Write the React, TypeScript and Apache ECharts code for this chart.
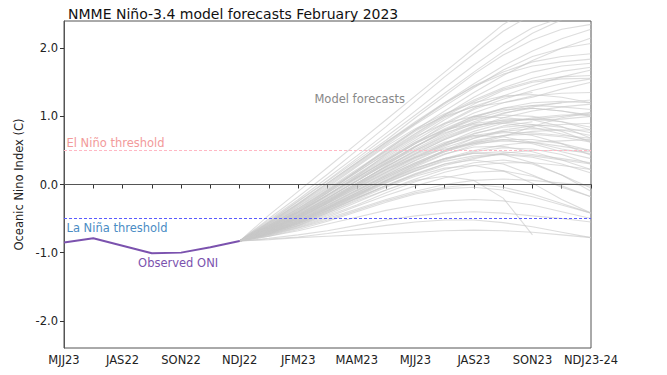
import React, { useEffect, useRef } from "react";
import * as echarts from "echarts";

const seasons = [
  "MJJ22", "JJA22", "JAS22", "ASO22", "SON22", "OND22", "NDJ22",
  "DJF23", "JFM23", "FMA23", "MAM23", "AMJ23", "MJJ23", "JJA23",
  "JAS23", "ASO23", "SON23", "OND23", "NDJ23-24",
];
const xTickLabels = [
  "MJJ23", "JAS22", "SON22", "NDJ22", "JFM23", "MAM23", "MJJ23", "JAS23", "SON23", "NDJ23-24",
];
const yTickValues = [-2, -1, 0, 1, 2];
const observedONI = [-0.85, -0.79, -0.9, -1.01, -1.0, -0.92, -0.83];
const elNinoThreshold = 0.5;
const laNinaThreshold = -0.5;

// forecast members, values for DJF23 .. NDJ23-24 (null = lead ended)
const modelForecasts: (number | null)[][] = [
  [-0.45, -0.1, 0.25, 0.6, 0.95, 1.3, 1.65, 2.0, 2.35, 2.6, 2.8, 3.0],
  [-0.5, -0.18, 0.15, 0.5, 0.85, 1.22, 1.58, 1.92, 2.25, 2.5, 2.65, 2.75],
  [-0.52, -0.22, 0.1, 0.42, 0.75, 1.08, 1.42, 1.75, 2.05, 2.3, 2.45, 2.55],
  [-0.55, -0.25, 0.05, 0.35, 0.65, 0.98, 1.3, 1.62, 1.9, 2.12, 2.28, 2.35],
  [-0.58, -0.3, -0.02, 0.28, 0.58, 0.88, 1.15, 1.42, 1.68, 1.88, 2.0, 2.07],
  [-0.56, -0.28, 0.02, 0.32, 0.62, 0.9, 1.18, 1.45, 1.65, 1.8, 1.88, 1.92],
  [-0.6, -0.35, -0.08, 0.2, 0.48, 0.75, 1.02, 1.28, 1.5, 1.65, 1.74, 1.78],
  [-0.62, -0.38, -0.12, 0.15, 0.42, 0.68, 0.95, 1.18, 1.38, 1.5, 1.55, 1.56],
  [-0.6, -0.36, -0.1, 0.18, 0.45, 0.72, 0.98, 1.15, 1.28, 1.35, null, null],
  [-0.63, -0.4, -0.15, 0.1, 0.36, 0.62, 0.85, 1.05, 1.2, 1.3, 1.34, 1.35],
  [-0.64, -0.42, -0.18, 0.08, 0.32, 0.56, 0.78, 0.98, 1.12, 1.2, 1.22, 1.2],
  [-0.65, -0.44, -0.2, 0.05, 0.3, 0.52, 0.74, 0.92, 1.05, 1.12, 1.08, 1.0],
  [-0.62, -0.4, -0.16, 0.1, 0.35, 0.6, 0.82, 1.0, 1.1, 1.12, 1.08, 1.02],
  [-0.66, -0.46, -0.24, 0.0, 0.24, 0.46, 0.66, 0.82, 0.92, 0.96, 0.92, 0.84],
  [-0.64, -0.43, -0.2, 0.05, 0.3, 0.55, 0.78, 0.95, 1.02, 1.0, 0.92, 0.8],
  [-0.67, -0.48, -0.26, -0.03, 0.2, 0.42, 0.6, 0.75, 0.84, 0.88, 0.84, 0.76],
  [-0.66, -0.46, -0.22, 0.02, 0.26, 0.48, 0.68, 0.85, 0.95, 0.95, 0.85, 0.68],
  [-0.68, -0.5, -0.3, -0.08, 0.14, 0.35, 0.54, 0.68, 0.78, 0.82, 0.8, 0.72],
  [-0.65, -0.45, -0.22, 0.02, 0.26, 0.5, 0.7, 0.86, 0.92, 0.88, 0.78, 0.62],
  [-0.69, -0.52, -0.32, -0.1, 0.12, 0.32, 0.5, 0.64, 0.72, 0.74, 0.7, 0.62],
  [-0.68, -0.5, -0.28, -0.06, 0.16, 0.38, 0.58, 0.72, 0.78, 0.72, 0.6, 0.43],
  [-0.7, -0.54, -0.35, -0.14, 0.06, 0.26, 0.44, 0.58, 0.66, 0.66, 0.6, 0.5],
  [-0.69, -0.52, -0.31, -0.09, 0.12, 0.32, 0.5, 0.62, 0.66, 0.6, 0.48, 0.38],
  [-0.71, -0.56, -0.38, -0.18, 0.02, 0.2, 0.36, 0.48, 0.54, 0.52, 0.44, 0.3],
  [-0.7, -0.54, -0.34, -0.12, 0.08, 0.28, 0.45, 0.55, 0.56, 0.48, 0.36, 0.22],
  [-0.72, -0.58, -0.4, -0.2, -0.02, 0.15, 0.3, 0.4, 0.44, 0.4, 0.3, 0.17],
  [-0.71, -0.56, -0.36, -0.15, 0.05, 0.24, 0.38, 0.46, 0.44, 0.32, 0.14, -0.1],
  [-0.73, -0.6, -0.44, -0.26, -0.08, 0.08, 0.22, 0.32, 0.36, 0.3, 0.14, -0.05],
  [-0.72, -0.58, -0.4, -0.2, -0.01, 0.16, 0.3, 0.36, 0.3, 0.14, -0.04, -0.18],
  [-0.74, -0.62, -0.48, -0.32, -0.16, -0.02, 0.1, 0.18, 0.2, 0.12, -0.02, -0.18],
  [-0.73, -0.6, -0.42, -0.22, -0.04, 0.12, 0.24, 0.28, 0.2, 0.02, -0.22, -0.42],
  [-0.75, -0.64, -0.52, -0.38, -0.24, -0.12, -0.04, 0.0, -0.04, -0.14, -0.28, -0.42],
  [-0.72, -0.58, -0.42, -0.24, -0.08, 0.06, 0.12, 0.06, -0.2, -0.74, null, null],
  [-0.76, -0.68, -0.58, -0.48, -0.38, -0.3, -0.24, -0.22, -0.24, -0.3, -0.4, -0.5],
  [-0.8, -0.77, -0.72, -0.66, -0.6, -0.55, -0.52, -0.52, -0.56, -0.62, -0.7, -0.78],
  [-0.76, -0.66, -0.54, -0.4, -0.26, -0.14, -0.06, -0.04, -0.08, -0.18, -0.3, -0.42],
  [-0.62, -0.38, -0.12, 0.14, 0.4, 0.65, 0.9, 1.12, 1.3, 1.45, 1.58, 1.68],
  [-0.59, -0.33, -0.06, 0.22, 0.5, 0.8, 1.08, 1.35, 1.6, 1.82, 2.0, 2.15],
  [-0.54, -0.24, 0.06, 0.38, 0.7, 1.02, 1.34, 1.65, 1.95, 2.22, 2.42, 2.6],
  [-0.66, -0.47, -0.25, -0.02, 0.22, 0.45, 0.66, 0.84, 0.98, 1.08, 1.14, 1.18],
  [-0.67, -0.49, -0.28, -0.05, 0.18, 0.4, 0.6, 0.78, 0.9, 0.98, 1.02, 1.02],
  [-0.7, -0.53, -0.33, -0.12, 0.1, 0.3, 0.48, 0.62, 0.72, 0.78, 0.8, 0.8],
  [-0.69, -0.51, -0.3, -0.08, 0.14, 0.36, 0.56, 0.74, 0.86, 0.92, null, null],
  [-0.71, -0.55, -0.36, -0.16, 0.04, 0.22, 0.38, 0.5, 0.58, 0.62, 0.64, 0.66],
  [-0.72, -0.57, -0.38, -0.17, 0.03, 0.2, 0.34, 0.42, 0.45, 0.42, 0.36, 0.3],
  [-0.61, -0.37, -0.1, 0.18, 0.46, 0.74, 1.0, 1.22, 1.4, 1.52, 1.58, 1.6],
  [-0.57, -0.29, 0.0, 0.3, 0.6, 0.9, 1.2, 1.48, 1.74, 1.96, 2.14, 2.28],
  [-0.81, -0.78, -0.76, -0.74, -0.72, -0.7, -0.68, -0.67, -0.68, -0.7, -0.74, -0.78],
  [-0.79, -0.74, -0.68, -0.6, -0.52, -0.46, -0.42, -0.4, -0.42, -0.46, -0.5, -0.55],
  [-0.6, -0.4, -0.12, 0.2, 0.52, 0.8, 1.0, 1.14, 1.2, 1.28, 1.4, 1.5],
  [-0.63, -0.42, -0.16, 0.12, 0.44, 0.7, 0.9, 1.0, 0.98, 0.95, 0.96, 1.0],
  [-0.58, -0.32, -0.04, 0.26, 0.56, 0.82, 1.04, 1.2, 1.3, 1.32, 1.28, 1.2],
  [-0.65, -0.45, -0.2, 0.06, 0.34, 0.6, 0.88, 1.1, 1.25, 1.38, 1.48, 1.55],
  [-0.67, -0.47, -0.24, 0.0, 0.22, 0.4, 0.52, 0.6, 0.7, 0.85, 0.98, 1.05],
  [-0.68, -0.5, -0.27, -0.02, 0.22, 0.44, 0.62, 0.72, 0.7, 0.62, 0.52, 0.45],
  [-0.7, -0.55, -0.36, -0.16, 0.06, 0.28, 0.5, 0.68, 0.8, 0.86, 0.88, 0.9],
  [-0.66, -0.48, -0.26, 0.0, 0.28, 0.55, 0.8, 1.0, 1.12, 1.16, 1.14, 1.1],
  [-0.62, -0.4, -0.15, 0.12, 0.38, 0.62, 0.8, 0.9, 0.94, 0.96, 1.0, 1.06],
  [-0.69, -0.52, -0.33, -0.12, 0.1, 0.3, 0.48, 0.6, 0.64, 0.62, 0.56, 0.5],
  [-0.71, -0.56, -0.38, -0.2, -0.02, 0.14, 0.28, 0.38, 0.46, 0.5, 0.5, 0.48],
  [-0.73, -0.61, -0.46, -0.3, -0.12, 0.04, 0.18, 0.28, 0.32, 0.32, 0.28, 0.22],
  [-0.64, -0.44, -0.2, 0.05, 0.32, 0.56, 0.76, 0.88, 0.9, 0.84, 0.74, 0.64],
  [-0.6, -0.35, -0.08, 0.2, 0.5, 0.78, 1.02, 1.24, 1.42, 1.56, 1.66, 1.72],
  [-0.56, -0.28, 0.02, 0.32, 0.62, 0.92, 1.2, 1.44, 1.62, 1.74, 1.8, 1.84],
  [-0.66, -0.47, -0.24, 0.02, 0.26, 0.5, 0.72, 0.9, 1.04, 1.14, 1.2, 1.24],
  [-0.7, -0.54, -0.34, -0.14, 0.06, 0.24, 0.38, 0.46, 0.48, 0.44, 0.38, 0.32],
  [-0.74, -0.63, -0.5, -0.36, -0.22, -0.1, 0.0, 0.06, 0.08, 0.06, 0.02, -0.02],
  [-0.68, -0.49, -0.27, -0.04, 0.18, 0.4, 0.58, 0.7, 0.76, 0.76, 0.72, 0.68],
  [-0.63, -0.41, -0.16, 0.1, 0.36, 0.6, 0.8, 0.96, 1.08, 1.16, 1.2, null],
];

const FONT = "DejaVu Sans";

export default function App() {
  const ref = useRef<HTMLDivElement>(null);

  useEffect(() => {
    if (!ref.current) return;
    const chart = echarts.init(ref.current, undefined, { renderer: "svg" });
    const lastObsIndex = observedONI.length - 1;

    const forecastSeries = modelForecasts.map((m, k) => {
      const data: (number | null)[] = seasons.map(() => null);
      data[lastObsIndex] = observedONI[lastObsIndex];
      m.forEach((v, j) => {
        data[lastObsIndex + 1 + j] = v;
      });
      return {
        type: "line",
        name: "forecast" + k,
        data,
        showSymbol: false,
        symbol: "none",
        connectNulls: false,
        silent: true,
        z: 2,
        lineStyle: { color: "rgba(200,200,200,0.62)", width: 1.1 },
      };
    });

    const obsData = seasons.map((_, i) => (i < observedONI.length ? observedONI[i] : null));

    const option: any = {
      animation: false,
      backgroundColor: "#ffffff",
      textStyle: { fontFamily: FONT },
      title: {
        text: "NMME Niño-3.4 model forecasts February 2023",
        left: 63,
        top: 2,
        textStyle: { fontFamily: FONT, fontSize: 14, fontWeight: "normal", color: "#111" },
      },
      grid: {
        left: 64,
        right: 76,
        top: 21,
        bottom: 27,
        show: true,
        borderColor: "#555",
        borderWidth: 1,
        backgroundColor: "transparent",
      },
      xAxis: {
        type: "category",
        data: seasons,
        boundaryGap: false,
        axisLine: { lineStyle: { color: "#555", width: 1 } },
        axisTick: { show: true, interval: 0, length: 4, lineStyle: { color: "#333" } },
        axisLabel: {
          interval: 1,
          margin: 6,
          fontSize: 11.5,
          color: "#222",
          fontFamily: FONT,
          formatter: (_v: string, i: number) => (i % 2 === 0 ? xTickLabels[i / 2] : ""),
        },
        splitLine: { show: false },
      },
      yAxis: {
        type: "value",
        min: -2.4,
        max: 2.4,
        name: "Oceanic Nino Index (C)",
        nameLocation: "middle",
        nameGap: 34,
        nameTextStyle: { fontSize: 11.5, color: "#222", fontFamily: FONT },
        axisLine: { show: true, lineStyle: { color: "#555", width: 1 } },
        axisTick: { show: true, length: 4, lineStyle: { color: "#333" }, customValues: yTickValues },
        axisLabel: {
          fontSize: 11.5,
          color: "#222",
          margin: 6,
          fontFamily: FONT,
          customValues: yTickValues,
          formatter: (v: number) => v.toFixed(1),
        },
        splitLine: { show: false },
      },
      series: [
        ...forecastSeries,
        {
          type: "line",
          name: "refs",
          data: [],
          silent: true,
          z: 3,
          markLine: {
            silent: true,
            symbol: ["none", "none"],
            label: { show: false },
            animation: false,
            data: [
              { yAxis: 0, lineStyle: { color: "#555", type: "solid", width: 1.2 } },
              { yAxis: elNinoThreshold, lineStyle: { color: "#ffb8c4", type: [3, 2], width: 1 } },
              { yAxis: laNinaThreshold, lineStyle: { color: "#5a5aff", type: [3, 2], width: 1 } },
            ],
          },
          markPoint: {
            silent: true,
            symbol: "circle",
            symbolSize: 1,
            itemStyle: { color: "rgba(0,0,0,0)" },
            animation: false,
            data: [
              {
                coord: [0, 0.61],
                label: { show: true, position: "right", distance: 2, formatter: "El Niño threshold", color: "#f29a9a", fontSize: 11.5, fontFamily: FONT },
              },
              {
                coord: [0, -0.64],
                label: { show: true, position: "right", distance: 2, formatter: "La Niña threshold", color: "#4a8cc4", fontSize: 11.5, fontFamily: FONT },
              },
              {
                coord: [4, -1.15],
                label: { show: true, position: "inside", offset: [-3, 0], formatter: "Observed ONI", color: "#7b52ae", fontSize: 11.5, fontFamily: FONT },
              },
              {
                coord: [10, 1.25],
                label: { show: true, position: "inside", offset: [3, 0], formatter: "Model forecasts", color: "#888888", fontSize: 11.5, fontFamily: FONT },
              },
            ],
          },
        },
        {
          type: "line",
          name: "Observed ONI",
          data: obsData,
          showSymbol: false,
          symbol: "none",
          silent: true,
          z: 4,
          lineStyle: { color: "#7b52ae", width: 2 },
        },
      ],
    };

    chart.setOption(option);
    return () => chart.dispose();
  }, []);

  return (
    <div
      ref={ref}
      style={{ position: "fixed", left: 0, top: 0, width: 667, height: 375, background: "#fff" }}
    />
  );
}
